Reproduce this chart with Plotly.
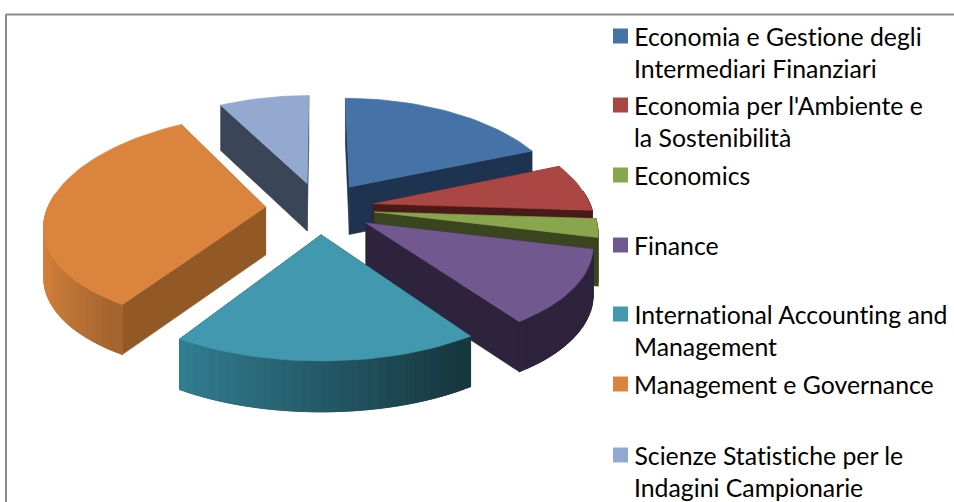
import math
import plotly.graph_objects as go

categories = ["Economia e Gestione degli<br>Intermediari Finanziari",
              "Economia per l'Ambiente e<br>la Sostenibilità",
              "Economics", "Finance",
              "International Accounting and<br>Management",
              "Management e Governance",
              "Scienze Statistiche per le<br>Indagini Campionarie"]
values = [18.8, 7.2, 2.8, 11.6, 18.6, 33.1, 7.9]
top_colors = ["#4573A7", "#AA4643", "#89A54E", "#71588F", "#4198AF", "#DB843D", "#93A9CF"]
cut_colors = ["#1E334F", "#4A1A18", "#3A441F", "#2E233C", "#1A3E4A", "#925926", "#3A4658"]
arc_left = ["#1E334F", "#4A1A18", "#3A441F", "#2E233C", "#327F93", "#DB843D", "#6B7F9F"]
arc_right = ["#1E334F", "#4A1A18", "#3A441F", "#2E233C", "#17373F", "#A5652E", "#3A4658"]
legend_y = [36, 105, 175, 245, 314, 384, 455]

CX, CY, R, RY, KX, KY, D, EXPLODE = 320, 208, 218, 104, 0.16, 0.12, 48, 0.25


def project(x, y, z=0):
    return (CX + R * x / (1 + KX * y),
            CY - RY * y / (1 + KY * y) + D * z * (1 - 0.05 * y))


def hex2rgb(h):
    return [int(h[i:i + 2], 16) for i in (1, 3, 5)]


def mix(a, b, t):
    ca, cb = hex2rgb(a), hex2rgb(b)
    return "rgb(%d,%d,%d)" % tuple(round(p + (q - p) * t) for p, q in zip(ca, cb))


fig = go.Figure()


def poly(pts, color):
    xs = [p[0] for p in pts] + [pts[0][0]]
    ys = [p[1] for p in pts] + [pts[0][1]]
    fig.add_trace(go.Scatter(x=xs, y=ys, mode="lines", fill="toself", fillcolor=color,
                             line=dict(color=color, width=0.6), hoverinfo="skip",
                             showlegend=False))


total = sum(values)
slices = []
start = 0.0
for i, v in enumerate(values):
    sweep = v / total * 2 * math.pi
    mid = start + sweep / 2
    ox, oy = EXPLODE * math.sin(mid), EXPLODE * math.cos(mid)
    slices.append((oy, i, start, start + sweep, ox))
    start += sweep

# painter's order: farthest apex first
for oy, i, a0, a1, ox in sorted(slices, key=lambda t: -t[0]):
    n = max(4, int((a1 - a0) / math.radians(2)))
    angs = [a0 + (a1 - a0) * j / n for j in range(n + 1)]
    rim = [(ox + math.sin(a), oy + math.cos(a)) for a in angs]
    apex = (ox, oy)
    faces = [rim[0], rim[-1]]
    faces.sort(key=lambda p: -p[1])
    for f in faces:
        poly([project(*apex, 0), project(*f, 0), project(*f, 1), project(*apex, 1)], cut_colors[i])
    strips = [j for j in range(n) if math.cos((angs[j] + angs[j + 1]) / 2) < 0.12]
    if strips:
        first, last = strips[0], strips[-1] + 1
        xs_all = [rim[j][0] for j in strips]
        lo, hi = min(xs_all), max(xs_all)
        # neighbouring strips overlap so that no seams show between them
        for j in sorted(strips, key=lambda q: rim[q][0]):
            t = (rim[j][0] - lo) / (hi - lo) if hi > lo else 0
            seg = rim[max(first, j - 1):min(last, j + 2) + 1]
            poly([project(*p, 0) for p in seg] + [project(*p, 1) for p in reversed(seg)],
                 mix(arc_left[i], arc_right[i], t))
    poly([project(*apex, 0)] + [project(*p, 0) for p in rim], top_colors[i])

fig.add_trace(go.Scatter(x=[620.5] * len(categories), y=legend_y, mode="markers",
                         marker=dict(symbol="square", size=15, color=top_colors, line=dict(width=0)),
                         hoverinfo="skip", showlegend=False))
for name, y in zip(categories, legend_y):
    for k, line in enumerate(name.split("<br>")):
        fig.add_annotation(x=632, y=y + k * 32, text=line, showarrow=False, xanchor="left",
                           yanchor="middle", xref="x", yref="y",
                           font=dict(family="Lato", size=24.8, color="#000000"))

fig.update_layout(
    width=954, height=502, margin=dict(l=0, r=0, t=0, b=0),
    paper_bgcolor="white", plot_bgcolor="white", showlegend=False,
    xaxis=dict(range=[0, 954], visible=False, fixedrange=True),
    yaxis=dict(range=[502, 0], visible=False, fixedrange=True),
    shapes=[dict(type="line", xref="x", yref="y", x0=6, x1=954, y0=14.5, y1=14.5,
                 line=dict(color="#8C8C8C", width=2)),
            dict(type="line", xref="x", yref="y", x0=6, x1=6, y0=14, y1=502,
                 line=dict(color="#8C8C8C", width=2))],
)
fig.write_html("out.html", config=dict(displayModeBar=False),
               post_script="document.body.style.margin='0';document.body.style.overflow='hidden';"
                           "document.body.style.fontFeatureSettings='\"liga\" 0, \"clig\" 0';")
